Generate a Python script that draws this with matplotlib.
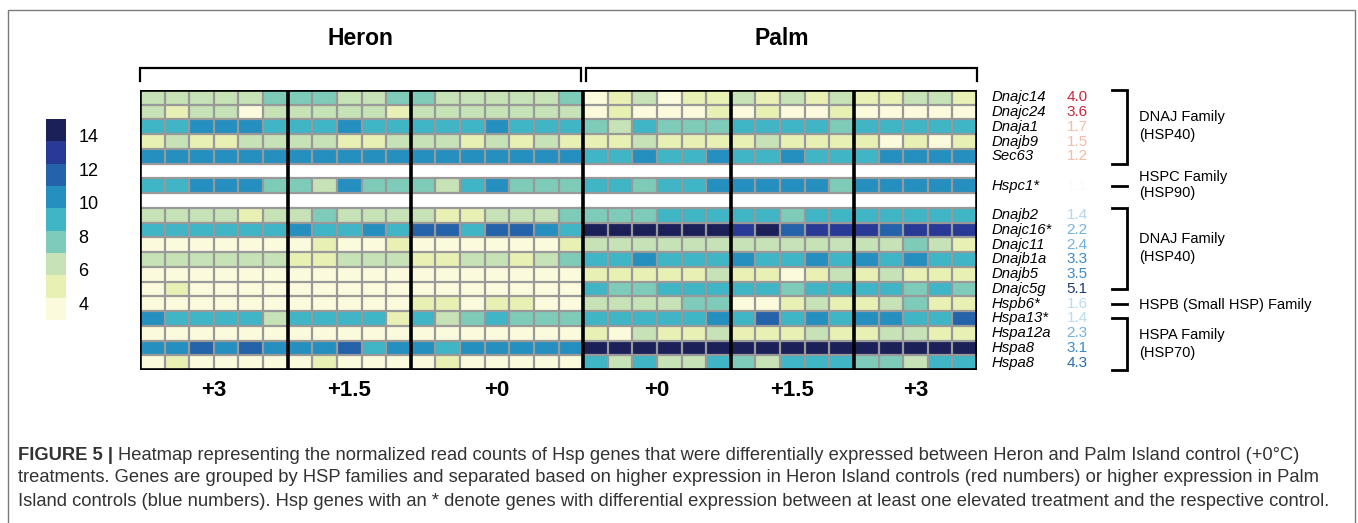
import numpy as np
import matplotlib
matplotlib.use('Agg')
import matplotlib.pyplot as plt
from matplotlib.colors import ListedColormap, BoundaryNorm
from matplotlib.patches import Rectangle

plt.rcParams['font.family'] = ['Liberation Sans', 'DejaVu Sans']

# gene rows (top to bottom), blank spacer rows are inserted after rows 5 and 6
genes = ['Dnajc14', 'Dnajc24', 'Dnaja1', 'Dnajb9', 'Sec63', 'Hspc1*',
         'Dnajb2', 'Dnajc16*', 'Dnajc11', 'Dnajb1a', 'Dnajb5', 'Dnajc5g',
         'Hspb6*', 'Hspa13*', 'Hspa12a', 'Hspa8', 'Hspa8']
fold_change = ['4.0', '3.6', '1.7', '1.5', '1.2', '1.1',
               '1.4', '2.2', '2.4', '3.3', '3.5', '5.1',
               '1.6', '1.4', '2.3', '3.1', '4.3']
fc_colors = ['#c8283c', '#c8283c', '#f6bba6', '#f6bba6', '#f6bba6', '#fafafa',
             '#b3d6ee', '#72b2e0', '#72b2e0', '#3d89c9', '#3d89c9', '#1d3b78',
             '#bcdcf0', '#bcdcf0', '#72b2e0', '#3d89c9', '#2a6cb4']

# treatment blocks and their sample counts
heron_blocks = ['+3', '+1.5', '+0']
heron_sizes = [6, 5, 7]
palm_blocks = ['+0', '+1.5', '+3']
palm_sizes = [6, 5, 5]

# normalized read counts, one list per gene
heron_vals = [
    [6.3, 6.3, 6.3, 6.3, 6.3, 7.7, 7.7, 7.7, 6.3, 6.3, 7.7, 7.7, 6.3, 6.3, 6.3, 6.3, 6.3, 7.7],
    [6.3, 5.0, 6.3, 6.3, 3.7, 6.3, 6.3, 6.3, 6.3, 6.3, 5.0, 6.3, 6.3, 6.3, 6.3, 6.3, 6.3, 6.3],
    [9.0, 9.0, 10.3, 10.3, 10.3, 9.0, 9.0, 9.0, 10.3, 9.0, 9.0, 9.0, 9.0, 9.0, 10.3, 9.0, 9.0, 9.0],
    [5.0, 6.3, 5.0, 5.0, 6.3, 6.3, 6.3, 6.3, 5.0, 5.0, 6.3, 6.3, 6.3, 5.0, 6.3, 5.0, 6.3, 5.0],
    [10.3, 10.3, 10.3, 10.3, 10.3, 10.3, 10.3, 10.3, 10.3, 10.3, 10.3, 10.3, 10.3, 10.3, 10.3, 10.3, 10.3, 10.3],
    [9.0, 9.0, 10.3, 10.3, 10.3, 7.7, 7.7, 6.3, 10.3, 7.7, 7.7, 7.7, 6.3, 9.0, 10.3, 7.7, 7.7, 7.7],
    [6.3, 6.3, 6.3, 6.3, 5.0, 6.3, 6.3, 7.7, 6.3, 6.3, 6.3, 6.3, 5.0, 5.0, 6.3, 6.3, 6.3, 7.7],
    [9.0, 9.0, 9.0, 9.0, 9.0, 9.0, 10.3, 9.0, 9.0, 10.3, 9.0, 11.7, 11.7, 9.0, 11.7, 11.7, 10.3, 9.0],
    [3.7, 3.7, 3.7, 3.7, 3.7, 3.7, 3.7, 5.0, 3.7, 3.7, 5.0, 3.7, 3.7, 3.7, 3.7, 3.7, 3.7, 5.0],
    [6.3, 6.3, 6.3, 6.3, 6.3, 6.3, 5.0, 5.0, 6.3, 6.3, 6.3, 5.0, 5.0, 6.3, 6.3, 5.0, 6.3, 7.7],
    [3.7, 3.7, 3.7, 3.7, 3.7, 3.7, 3.7, 3.7, 3.7, 3.7, 3.7, 3.7, 3.7, 3.7, 3.7, 3.7, 3.7, 3.7],
    [3.7, 5.0, 3.7, 3.7, 3.7, 3.7, 3.7, 3.7, 3.7, 3.7, 3.7, 3.7, 3.7, 3.7, 3.7, 3.7, 3.7, 3.7],
    [3.7, 3.7, 3.7, 3.7, 3.7, 3.7, 3.7, 3.7, 3.7, 3.7, 3.7, 5.0, 5.0, 3.7, 5.0, 5.0, 3.7, 3.7],
    [10.3, 9.0, 9.0, 9.0, 9.0, 6.3, 9.0, 9.0, 9.0, 9.0, 5.0, 9.0, 6.3, 7.7, 9.0, 7.7, 7.7, 7.7],
    [3.7, 3.7, 3.7, 3.7, 3.7, 3.7, 3.7, 3.7, 3.7, 3.7, 3.7, 3.7, 3.7, 3.7, 3.7, 3.7, 3.7, 3.7],
    [10.3, 10.3, 11.7, 10.3, 11.7, 10.3, 10.3, 10.3, 11.7, 9.0, 10.3, 10.3, 9.0, 10.3, 10.3, 10.3, 10.3, 10.3],
    [3.7, 5.0, 3.7, 3.7, 3.7, 3.7, 3.7, 5.0, 3.7, 3.7, 3.7, 3.7, 5.0, 3.7, 3.7, 3.7, 3.7, 3.7],
]
palm_vals = [
    [3.7, 5.0, 6.3, 3.7, 5.0, 5.0, 6.3, 5.0, 6.3, 5.0, 6.3, 5.0, 5.0, 6.3, 6.3, 5.0],
    [3.7, 5.0, 3.7, 3.7, 3.7, 5.0, 3.7, 5.0, 3.7, 3.7, 5.0, 3.7, 3.7, 3.7, 3.7, 3.7],
    [7.7, 6.3, 9.0, 7.7, 7.7, 7.7, 9.0, 9.0, 9.0, 9.0, 7.7, 9.0, 9.0, 9.0, 9.0, 9.0],
    [5.0, 5.0, 6.3, 5.0, 5.0, 5.0, 5.0, 6.3, 5.0, 5.0, 5.0, 5.0, 3.7, 5.0, 3.7, 5.0],
    [9.0, 9.0, 10.3, 9.0, 9.0, 10.3, 9.0, 9.0, 10.3, 9.0, 9.0, 9.0, 10.3, 10.3, 10.3, 10.3],
    [9.0, 9.0, 7.7, 9.0, 9.0, 10.3, 10.3, 10.3, 10.3, 10.3, 7.7, 10.3, 10.3, 10.3, 10.3, 10.3],
    [7.7, 7.7, 7.7, 9.0, 9.0, 9.0, 9.0, 9.0, 7.7, 9.0, 9.0, 9.0, 9.0, 9.0, 9.0, 9.0],
    [14.3, 14.3, 14.3, 14.3, 14.3, 14.3, 13.0, 14.3, 11.7, 13.0, 13.0, 13.0, 11.7, 13.0, 13.0, 13.0],
    [6.3, 6.3, 6.3, 6.3, 6.3, 6.3, 6.3, 6.3, 6.3, 6.3, 6.3, 6.3, 6.3, 7.7, 6.3, 5.0],
    [9.0, 9.0, 10.3, 9.0, 9.0, 9.0, 10.3, 9.0, 9.0, 10.3, 9.0, 10.3, 9.0, 10.3, 9.0, 9.0],
    [5.0, 5.0, 5.0, 5.0, 5.0, 6.3, 5.0, 5.0, 3.7, 5.0, 6.3, 5.0, 6.3, 5.0, 5.0, 5.0],
    [9.0, 7.7, 7.7, 9.0, 9.0, 9.0, 9.0, 9.0, 7.7, 9.0, 9.0, 9.0, 9.0, 7.7, 9.0, 7.7],
    [6.3, 6.3, 6.3, 6.3, 7.7, 7.7, 3.7, 3.7, 5.0, 6.3, 5.0, 5.0, 6.3, 7.7, 5.0, 5.0],
    [9.0, 9.0, 9.0, 9.0, 9.0, 10.3, 9.0, 11.7, 9.0, 10.3, 9.0, 10.3, 10.3, 9.0, 9.0, 11.7],
    [5.0, 3.7, 6.3, 5.0, 5.0, 6.3, 5.0, 5.0, 5.0, 6.3, 5.0, 5.0, 6.3, 6.3, 5.0, 5.0],
    [14.3, 14.3, 14.3, 14.3, 14.3, 14.3, 14.3, 14.3, 14.3, 14.3, 14.3, 14.3, 14.3, 14.3, 14.3, 14.3],
    [9.0, 6.3, 9.0, 6.3, 6.3, 9.0, 7.7, 6.3, 9.0, 9.0, 9.0, 7.7, 7.7, 6.3, 9.0, 9.0],
]

# family brackets: (label lines, first row, last row, text rows) in display-row units
families = [
    (['DNAJ Family', '(HSP40)'], 0.0, 5.0, [1.85, 3.05]),
    (['HSPC Family', '(HSP90)'], 6.5, 6.5, [5.9, 7.0]),
    (['DNAJ Family', '(HSP40)'], 8.0, 13.5, [10.1, 11.3]),
    (['HSPB (Small HSP) Family'], 14.5, 14.5, [14.6]),
    (['HSPA Family', '(HSP70)'], 15.5, 19.0, [16.6, 17.85]),
]

caption = [
    'Heatmap representing the normalized read counts of Hsp genes that were differentially expressed between Heron and Palm Island control (+0\u00b0C)',
    'treatments. Genes are grouped by HSP families and separated based on higher expression in Heron Island controls (red numbers) or higher expression in Palm',
    'Island controls (blue numbers). Hsp genes with an * denote genes with differential expression between at least one elevated treatment and the respective control.',
]

colors = ['#fbfadc', '#e9f0b4', '#c7e2b6', '#7fcbb9', '#3fb5c5',
          '#2590c0', '#2462a9', '#283a95', '#1c2058']
cmap = ListedColormap(colors)
bounds = np.linspace(3, 15, 10)
norm = BoundaryNorm(bounds, cmap.N)

# assemble matrix with the two blank spacer rows
data = np.hstack([np.array(heron_vals), np.array(palm_vals)])
blank = np.full((1, data.shape[1]), np.nan)
mat = np.vstack([data[:5], blank, data[5:6], blank, data[6:]])
mat = np.ma.masked_invalid(mat)
nrows, ncols = mat.shape
gene_rows = [r for r in range(nrows) if r not in (5, 7)]

W, H = 1358, 523
fig = plt.figure(figsize=(W / 100, H / 100), dpi=100)

ax = fig.add_axes([140 / W, 1 - 370 / H, 837 / W, 280 / H])
mesh = ax.pcolormesh(np.arange(ncols + 1), np.arange(nrows + 1), mat, cmap=cmap, norm=norm)
ax.set_xlim(0, ncols)
ax.set_ylim(nrows, 0)
ax.axis('off')

grid_c = '#999999'
ax.hlines(np.arange(nrows + 1), 0, ncols, color=grid_c, lw=1.6)
for r0, r1 in [(0, 5), (6, 7), (8, nrows)]:
    ax.vlines(np.arange(1, ncols), r0, r1, color=grid_c, lw=1.6)

edges = np.cumsum([0] + heron_sizes + palm_sizes)
ax.vlines(edges, 0, nrows, color='black', lw=2.6)
ax.hlines([0, nrows], 0, ncols, color='black', lw=2.6)

# block labels under heatmap
for lab, a, b in zip(heron_blocks + palm_blocks, edges[:-1], edges[1:]):
    ax.text((a + b) / 2, 20.4, lab, ha='center', va='center',
            fontsize=16, fontweight='bold', clip_on=False)

# site brackets and titles above
n_heron = sum(heron_sizes)
for title, x0, x1 in [('Heron', 0, n_heron - 0.07), ('Palm', n_heron + 0.1, ncols)]:
    ax.plot([x0, x0, x1, x1], [-0.62, -1.5, -1.5, -0.62], color='black',
            lw=1.6, clip_on=False, solid_joinstyle='miter')
    ax.text((x0 + x1) / 2, -3.5, title, ha='center', va='center',
            fontsize=16.5, fontweight='bold', clip_on=False)

# gene names and fold changes
colw = 837 / ncols
def px2col(px):
    return ncols + (px - 977) / colw

for r, g, fc, fcc in zip(gene_rows, genes, fold_change, fc_colors):
    ax.text(px2col(992), r + 0.5, g, ha='left', va='center', fontsize=10.7,
            style='italic', clip_on=False)
    ax.text(px2col(1077), r + 0.5, fc, ha='center', va='center', fontsize=11,
            color=fcc, clip_on=False)

xb, xt, xl = px2col(1127), px2col(1112), px2col(1139)
for lines, y0, y1, ys in families:
    if y0 == y1:
        ax.plot([xt, xb], [y0, y0], color='black', lw=2, clip_on=False)
    else:
        ax.plot([xt, xb, xb, xt], [y0, y0, y1, y1], color='black', lw=2,
                clip_on=False, solid_joinstyle='miter')
    for t, y in zip(lines, ys):
        ax.text(xl, y, t, ha='left', va='center', fontsize=10.5, clip_on=False)

# colour bar
cax = fig.add_axes([46 / W, 1 - 320 / H, 20 / W, 201 / H])
cb = fig.colorbar(mesh, cax=cax, boundaries=bounds, ticks=[4, 6, 8, 10, 12, 14])
cb.outline.set_visible(False)
cb.minorticks_off()
cax.tick_params(which='both', length=0, labelsize=13, pad=9)

# caption
cap_c = '#333333'
cap_fs = 13.2
fig.canvas.draw()
renderer = fig.canvas.get_renderer()
t0 = fig.text(18 / W, 1 - 455 / H, 'FIGURE 5 |', fontsize=cap_fs, fontweight='bold',
              color=cap_c, va='center', ha='left')
bb = t0.get_window_extent(renderer)
fig.text(bb.x1 / W + 5 / W, 1 - 455 / H, caption[0], fontsize=cap_fs, color=cap_c,
         va='center', ha='left')
for i, line in enumerate(caption[1:]):
    fig.text(18 / W, 1 - (478 + 23 * i) / H, line, fontsize=cap_fs, color=cap_c,
             va='center', ha='left')

# outer frame of the figure panel
fig.patches.append(Rectangle((8 / W, -0.2), 1347 / W, 1.2 - 10 / H,
                             transform=fig.transFigure, fill=False,
                             edgecolor='#7a7a7a', lw=1))

fig.savefig('out.png', dpi=100)
